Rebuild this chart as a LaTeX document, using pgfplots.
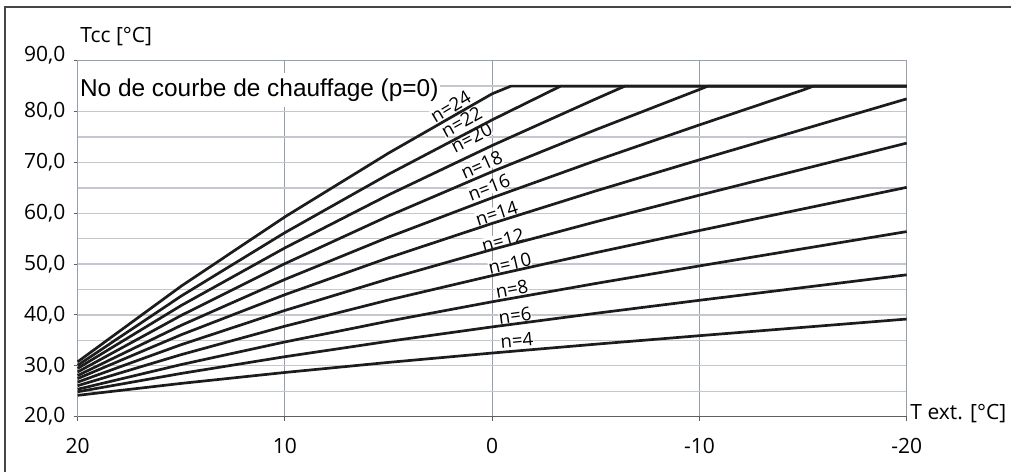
\documentclass[border=0pt]{standalone}
\usepackage{fontspec}
\setmainfont{Open Sans}
\newfontfamily\arialf{Liberation Sans}
\usepackage{pgfplots}
\pgfplotsset{compat=1.18}
\definecolor{hgrid}{RGB}{196,200,206}
\definecolor{vgrid}{RGB}{150,160,172}
\definecolor{axdark}{RGB}{95,95,95}
\definecolor{curve}{RGB}{28,28,28}
\definecolor{framec}{RGB}{70,70,70}
\pgfplotsset{cst/.style={curve, line width=1.35pt, line join=round, mark=none}}
\newcommand{\tfont}{\fontsize{10.5}{10.5}\selectfont}
\newcommand{\nfont}{\fontsize{9.3}{9.3}\selectfont}
\begin{document}
\begin{tikzpicture}[x=1pt,y=1pt]
\useasboundingbox (-38.85,-27.15) rectangle (466.65,208.35);
\draw[framec, line width=0.8pt] (-36.35,-30) -- (-36.35,204.85) -- (470,204.85);
\begin{axis}[
  at={(0,0)}, anchor=south west, scale only axis,
  width=414.5pt, height=178pt,
  x dir=reverse, xmin=-20, xmax=20, ymin=20, ymax=90,
  xtick={-20,-10,0,10,20}, xticklabels={-20,-10,0,10,20},
  ytick={20,30,...,90},
  yticklabels={{20,0},{30,0},{40,0},{50,0},{60,0},{70,0},{80,0},{}},
  minor ytick={25,35,...,85},
  grid=both,
  major x grid style={vgrid, line width=0.5pt},
  major y grid style={hgrid, line width=0.65pt},
  minor y grid style={hgrid, line width=0.65pt},
  axis line style={vgrid, line width=0.5pt},
  xtick pos=bottom, ytick pos=left,
  tick align=outside, major tick length=2pt, minor tick length=0pt,
  tick style={axdark, line width=0.5pt},
  xticklabel style={anchor=north, inner sep=0pt, yshift=-8.5pt, font=\tfont},
  yticklabel style={anchor=east, inner sep=0pt, xshift=-4pt, font=\tfont},
  /pgf/number format/assume math mode=true,
  clip=false,
]
% heading box
\node[anchor=west, fill=white, inner xsep=1pt, inner ysep=2.8pt] at (20,84.2) {\arialf\fontsize{12.2}{12.2}\selectfont No de courbe de chauffage (p=0)};
% curve labels
\node[rotate=31, fill=white, inner sep=0pt, font=\nfont] at (2.01,80.96) {n=24};
\node[rotate=29, fill=white, inner sep=0pt, font=\nfont] at (1.48,78.0) {n=22};
\node[rotate=27, fill=white, inner sep=0pt, font=\nfont] at (1.0,74.8) {n=20};
\node[rotate=24, fill=white, inner sep=0pt, font=\nfont] at (0.51,69.5) {n=18};
\node[rotate=21, fill=white, inner sep=0pt, font=\nfont] at (0.16,65.1) {n=16};
\node[rotate=18, fill=white, inner sep=0pt, font=\nfont] at (-0.21,60.0) {n=14};
\node[rotate=15.5, fill=white, inner sep=0pt, font=\nfont] at (-0.52,54.75) {n=12};
\node[rotate=13, fill=white, inner sep=0pt, font=\nfont] at (-0.85,50.1) {n=10};
\node[rotate=10.5, fill=white, inner sep=0pt, font=\nfont] at (-0.95,45.1) {n=8};
\node[rotate=8, fill=white, inner sep=0pt, font=\nfont] at (-1.1,39.9) {n=6};
\node[rotate=5.5, fill=white, inner sep=0pt, font=\nfont] at (-1.19,35.1) {n=4};
% curves
\addplot[cst] coordinates {(20,24.2) (15,26.55) (10,28.70) (5,30.68) (0,32.52) (-5,34.26) (-10,35.93) (-15,37.57) (-20,39.2)};
\addplot[cst] coordinates {(20,24.9) (15,28.51) (10,31.80) (5,34.83) (0,37.66) (-5,40.33) (-10,42.89) (-15,45.40) (-20,47.9)};
\addplot[cst] coordinates {(20,25.4) (15,30.26) (10,34.70) (5,38.79) (0,42.60) (-5,46.20) (-10,49.65) (-15,53.03) (-20,56.4)};
\addplot[cst] coordinates {(20,26.1) (15,32.21) (10,37.80) (5,42.95) (0,47.74) (-5,52.26) (-10,56.61) (-15,60.86) (-20,65.1)};
\addplot[cst] coordinates {(20,26.8) (15,34.17) (10,40.90) (5,47.10) (0,52.88) (-5,58.33) (-10,63.56) (-15,68.69) (-20,73.8)};
\addplot[cst] coordinates {(20,27.5) (15,36.12) (10,44.00) (5,51.26) (0,58.01) (-5,64.40) (-10,70.52) (-15,76.51) (-20,82.5)};
\addplot[cst] coordinates {(20,28.1) (15,37.98) (10,47.00) (5,55.31) (0,63.05) (-5,70.36) (-10,77.38) (-15,84.24) (-15.5,85) (-20,85)};
\addplot[cst] coordinates {(20,28.8) (15,39.93) (10,50.10) (5,59.47) (0,68.19) (-5,76.43) (-10,84.34) (-10.4,85) (-20,85)};
\addplot[cst] coordinates {(20,29.5) (15,41.88) (10,53.20) (5,63.62) (0,73.33) (-5,82.49) (-6.4,85) (-20,85)};
\addplot[cst] coordinates {(20,30.1) (15,43.74) (10,56.20) (5,67.68) (0,78.37) (-3.3,85) (-20,85)};
\addplot[cst] coordinates {(20,30.8) (15,45.69) (10,59.30) (5,71.83) (0,83.50) (-0.9,85) (-20,85)};
% bottom axis line
\draw[axdark, line width=0.65pt] (rel axis cs:0,0) -- (rel axis cs:1,0);
% labels
\node[anchor=east, inner sep=0pt, font=\tfont] at ([xshift=-6pt, yshift=2.6pt]rel axis cs:0,1) {90,0};
\node[anchor=base west, inner sep=0pt, font=\tfont] at ([xshift=1.2pt, yshift=9pt]rel axis cs:0,1) {Tcc [°C]};
\node[anchor=base west, inner sep=0pt, font=\tfont] at ([xshift=1.7pt, yshift=-1.2pt]rel axis cs:1,0) {T ext. [°C]};
\end{axis}
\end{tikzpicture}
\end{document}
